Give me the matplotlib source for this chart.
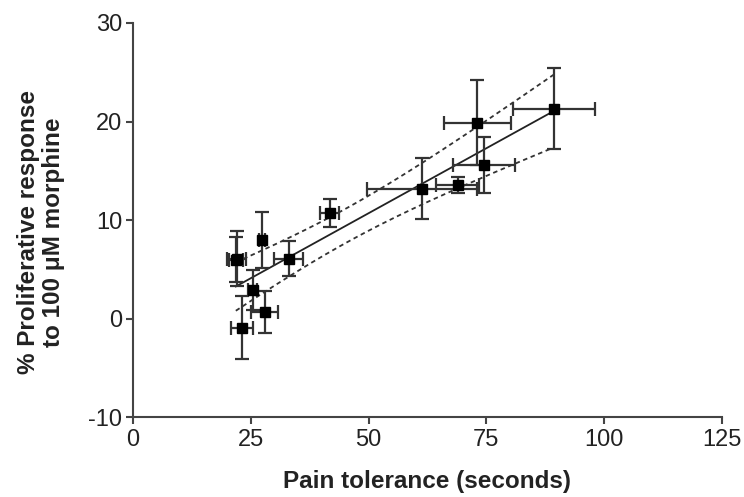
import numpy as np
import matplotlib
matplotlib.use("Agg")
import matplotlib.pyplot as plt

plt.rcParams['font.family'] = ['Liberation Sans', 'DejaVu Sans']
plt.rcParams['axes.unicode_minus'] = False

# Data
pain_tolerance = [22.0, 21.8, 27.3, 25.4, 27.9, 23.1, 33.0, 41.7, 61.3, 68.9, 74.5, 73.1, 89.4]
pain_err       = [2.0, 1.5, 0.6, 1.0, 2.8, 2.3, 3.0, 2.0, 11.7, 4.5, 6.5, 7.1, 8.7]
prolif_resp    = [6.1, 6.0, 8.0, 2.9, 0.7, -0.9, 6.1, 10.7, 13.2, 13.6, 15.6, 19.9, 21.3]
prolif_err     = [2.8, 2.3, 2.8, 2.0, 2.1, 3.2, 1.8, 1.4, 3.1, 0.8, 2.8, 4.3, 4.1]

x_ticks = [0, 25, 50, 75, 100, 125]
y_ticks = [-10, 0, 10, 20, 30]
t_crit = 2.228  # 95% two-sided, df = n - 2

fig = plt.figure(figsize=(7.44, 4.97), dpi=100)
ax = fig.add_axes([0.179, 0.160, 0.791, 0.794])

x = np.array(pain_tolerance)
y = np.array(prolif_resp)
n = len(x)
slope, intercept = np.polyfit(x, y, 1)
xs = np.linspace(x.min(), x.max(), 200)
fit = intercept + slope * xs
resid = y - (intercept + slope * x)
s = np.sqrt(np.sum(resid ** 2) / (n - 2))
sxx = np.sum((x - x.mean()) ** 2)
half = t_crit * s * np.sqrt(1.0 / n + (xs - x.mean()) ** 2 / sxx)

line_col = '#222222'
ax.plot(xs, fit, color=line_col, lw=1.3, zorder=2)
ax.plot(xs, fit + half, color='#333333', lw=1.3, ls=(0, (2.5, 2)), zorder=2)
ax.plot(xs, fit - half, color='#333333', lw=1.3, ls=(0, (2.5, 2)), zorder=2)

ax.errorbar(x, y, xerr=pain_err, yerr=prolif_err, fmt='s', color='black',
            ecolor='#333333', elinewidth=1.6, capsize=5, capthick=1.6,
            markersize=7, zorder=3)

ax.set_xlim(0, 125)
ax.set_ylim(-10, 30)
ax.set_xticks(x_ticks)
ax.set_yticks(y_ticks)
ax.tick_params(labelsize=17, length=5, width=1.5, color='#444444', pad=3,
               labelcolor='#222222')
for side in ['top', 'right']:
    ax.spines[side].set_visible(False)
for side in ['left', 'bottom']:
    ax.spines[side].set_linewidth(1.5)
    ax.spines[side].set_color('#444444')

ax.set_xlabel('Pain tolerance (seconds)', fontsize=17.5, fontweight='bold',
              labelpad=14, color='#222222')
ax.set_ylabel('% Proliferative response\nto 100 \u03bcM morphine', fontsize=17.5,
              fontweight='bold', color='#222222', linespacing=1.1)
ax.yaxis.set_label_coords(-0.116, 0.47)

fig.savefig('out.png', dpi=100)
